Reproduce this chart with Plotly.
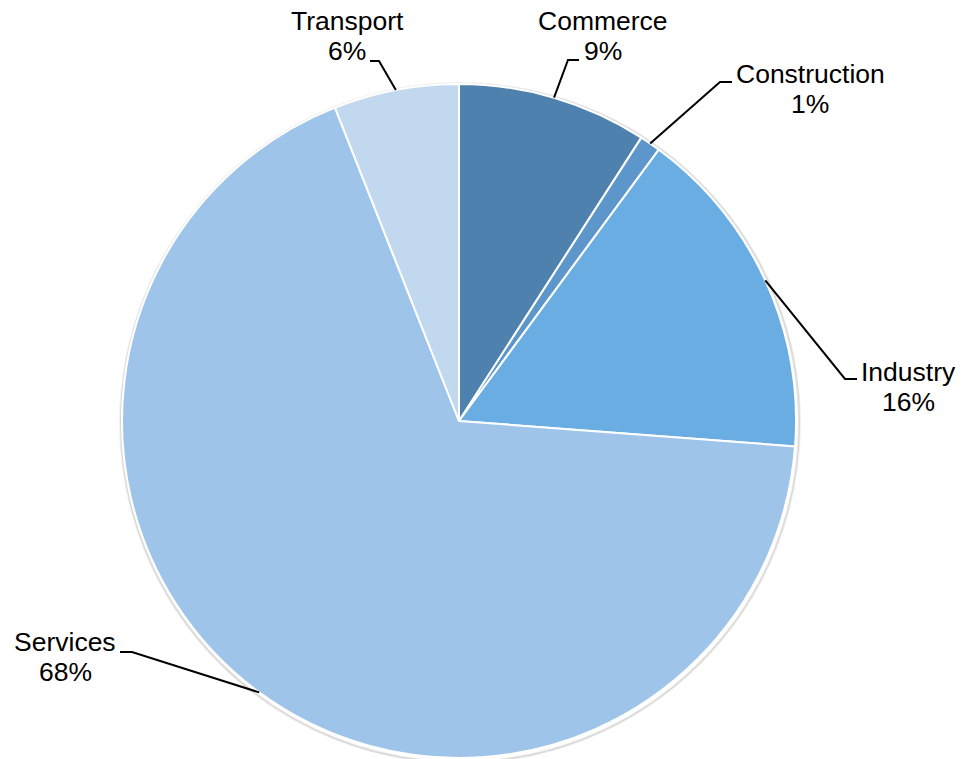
import math
import plotly.graph_objects as go

# ---- data ----
categories = ["Commerce", "Construction", "Industry", "Services", "Transport"]
values = [9.1, 1.0, 16.1, 67.8, 6.0]
colors = ["#4E81AE", "#5C96CB", "#69ADE3", "#9FC4EA", "#C2D8EF"]

# ---- layout constants (pixels) ----
W, H = 963, 759
CX, CY, R = 459, 421, 337
# label centre and the horizontal stub of each leader line (start, elbow)
label_pos = {
    "Commerce": (603, 36),
    "Construction": (810, 89),
    "Industry": (908, 387),
    "Services": (65, 657),
    "Transport": (347, 36),
}
stub = {
    "Commerce": ((579, 60), (568, 60)),
    "Construction": ((732, 82), (720, 82)),
    "Industry": ((857, 379), (845, 379)),
    "Services": ((120, 652), (132, 652)),
    "Transport": ((370, 61), (379, 61)),
}
LINE_GAP = 30
FONT = dict(family="Liberation Sans, Arial, sans-serif", size=26.5, color="black")

def px(x):
    return x / W

def py(y):
    return 1 - y / H

fig = go.Figure(go.Pie(
    labels=categories,
    values=values,
    sort=False,
    direction="clockwise",
    rotation=0,
    marker=dict(colors=colors, line=dict(color="white", width=2)),
    textinfo="none",
    hoverinfo="label+percent",
    domain=dict(x=[(CX - R) / W, (CX + R) / W], y=[(H - CY - R) / H, (H - CY + R) / H]),
    showlegend=False,
))

total = sum(values)
annotations = []
shapes = []
# soft shadow behind the pie
for off, alpha in ((3, 0.06), (2, 0.10)):
    shapes.append(dict(type="circle", xref="paper", yref="paper", layer="below",
                       x0=px(CX - R - off + 1), x1=px(CX + R + off + 1),
                       y0=py(CY + R + off + 2), y1=py(CY - R - off + 2),
                       line=dict(color=f"rgba(0,0,0,{alpha})", width=2),
                       fillcolor="rgba(0,0,0,0)"))
cum = 0.0
for cat, v in zip(categories, values):
    mid = (cum + v / 2) / total * 2 * math.pi
    cum += v
    ax = CX + R * math.sin(mid)
    ay = CY - R * math.cos(mid)
    (sx, sy), (ex, ey) = stub[cat]
    path = f"M {px(sx)} {py(sy)} L {px(ex)} {py(ey)} L {px(ax)} {py(ay)}"
    shapes.append(dict(type="path", xref="paper", yref="paper", path=path,
                       line=dict(color="black", width=2)))
    lx, ly = label_pos[cat]
    pct = round(v / total * 100)
    for txt, yy in ((cat, ly - LINE_GAP / 2), (f"{pct}%", ly + LINE_GAP / 2)):
        annotations.append(dict(
            x=px(lx), y=py(yy), xref="paper", yref="paper",
            text=txt, showarrow=False,
            xanchor="center", yanchor="middle", align="center",
            font=FONT,
        ))

fig.update_layout(
    width=W, height=H,
    margin=dict(l=0, r=0, t=0, b=0),
    paper_bgcolor="white",
    plot_bgcolor="white",
    annotations=annotations,
    shapes=shapes,
)

fig.write_html("out.html", config={"displayModeBar": False},
               post_script="document.body.style.margin='0px';")
